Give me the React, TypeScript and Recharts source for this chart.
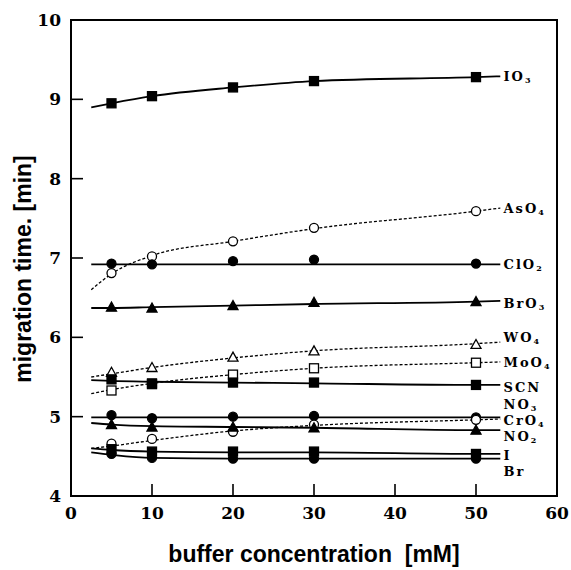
import React from "react";
import {
  ComposedChart,
  Line,
  XAxis,
  YAxis,
  ReferenceArea,
  ReferenceDot,
} from "recharts";

// buffer concentration [mM] of the measured points, and the span of the fitted curves
const concentration = [5, 10, 20, 30, 50];
const fitConcentration = [2.5, 5, 10, 20, 30, 50, 53];

const ionNames = ["IO3", "AsO4", "ClO2", "BrO3", "WO4", "MoO4", "SCN", "NO3", "CrO4", "NO2", "I", "Br"];

// migration time [min], measured
const io3 = [8.95, 9.04, 9.15, 9.23, 9.28];
const aso4 = [6.81, 7.02, 7.21, 7.38, 7.59];
const clo2 = [6.93, 6.92, 6.96, 6.98, 6.93];
const bro3 = [6.38, 6.37, 6.4, 6.44, 6.45];
const wo4 = [5.56, 5.62, 5.75, 5.83, 5.91];
const moo4 = [5.33, 5.42, 5.53, 5.61, 5.68];
const scn = [5.47, 5.41, 5.43, 5.43, 5.4];
const no3 = [5.02, 4.98, 5.0, 5.01, 4.99];
const cro4 = [4.66, 4.72, 4.81, 4.9, 4.96];
const no2 = [4.9, 4.87, 4.87, 4.86, 4.83];
const iodide = [4.59, 4.56, 4.56, 4.56, 4.53];
const bromide = [4.53, 4.48, 4.47, 4.47, 4.47];

// fitted curves, read along fitConcentration
const io3Fit = [8.9, 8.95, 9.04, 9.15, 9.23, 9.28, 9.29];
const aso4Fit = [6.6, 6.8, 7.03, 7.21, 7.37, 7.59, 7.63];
const clo2Fit = [6.92, 6.92, 6.92, 6.92, 6.92, 6.92, 6.92];
const bro3Fit = [6.37, 6.37, 6.38, 6.4, 6.42, 6.45, 6.46];
const wo4Fit = [5.5, 5.54, 5.62, 5.74, 5.83, 5.92, 5.94];
const moo4Fit = [5.29, 5.34, 5.42, 5.53, 5.61, 5.68, 5.69];
const scnFit = [5.46, 5.45, 5.44, 5.43, 5.42, 5.4, 5.4];
const no3Fit = [4.99, 4.99, 4.99, 4.99, 4.99, 4.99, 4.99];
const cro4Fit = [4.6, 4.63, 4.7, 4.82, 4.89, 4.96, 4.97];
const no2Fit = [4.92, 4.9, 4.88, 4.87, 4.86, 4.83, 4.83];
const iodideFit = [4.6, 4.58, 4.56, 4.55, 4.55, 4.53, 4.53];
const bromideFit = [4.55, 4.52, 4.48, 4.47, 4.47, 4.47, 4.47];

// where each ion name sits on the right (migration time units)
const labelTimes = [9.29, 7.63, 6.93, 6.43, 6.0, 5.69, 5.38, 5.16, 4.96, 4.76, 4.52, 4.31];
const labelConcentration = 53.4;

const xTicks = [0, 10, 20, 30, 40, 50, 60];
const yTicks = [4, 5, 6, 7, 8, 9, 10];

type MarkerKind = "filledSquare" | "openSquare" | "filledCircle" | "openCircle" | "filledTriangle" | "openTriangle";

const series: Array<{ values: number[]; fit: number[]; marker: MarkerKind; dashed: boolean }> = [
  { values: io3, fit: io3Fit, marker: "filledSquare", dashed: false },
  { values: aso4, fit: aso4Fit, marker: "openCircle", dashed: true },
  { values: clo2, fit: clo2Fit, marker: "filledCircle", dashed: false },
  { values: bro3, fit: bro3Fit, marker: "filledTriangle", dashed: false },
  { values: wo4, fit: wo4Fit, marker: "openTriangle", dashed: true },
  { values: moo4, fit: moo4Fit, marker: "openSquare", dashed: true },
  { values: scn, fit: scnFit, marker: "filledSquare", dashed: false },
  { values: no3, fit: no3Fit, marker: "filledCircle", dashed: false },
  { values: cro4, fit: cro4Fit, marker: "openCircle", dashed: true },
  { values: no2, fit: no2Fit, marker: "filledTriangle", dashed: false },
  { values: iodide, fit: iodideFit, marker: "filledSquare", dashed: false },
  { values: bromide, fit: bromideFit, marker: "filledCircle", dashed: false },
];

const serifFont = "'DejaVu Serif', 'Liberation Serif', serif";
const sansFont = "'Liberation Sans', Arial, sans-serif";
const INNER_TICK = 12;

function Marker({ cx, cy, kind }: { cx?: number; cy?: number; kind: MarkerKind }) {
  if (cx == null || cy == null) return null;
  const fill = kind.startsWith("filled") ? "#000" : "#fff";
  if (kind.endsWith("Square")) {
    return <rect x={cx - 4.5} y={cy - 4.5} width={9} height={9} fill={fill} stroke="#000" strokeWidth={1.3} />;
  }
  if (kind.endsWith("Circle")) {
    return <circle cx={cx} cy={cy} r={4.5} fill={fill} stroke="#000" strokeWidth={1.3} />;
  }
  return (
    <polygon
      points={`${cx},${cy - 5} ${cx - 5},${cy + 4} ${cx + 5},${cy + 4}`}
      fill={fill}
      stroke="#000"
      strokeWidth={1.3}
    />
  );
}

function IonLabel({ cx, cy, name }: { cx?: number; cy?: number; name: string }) {
  if (cx == null || cy == null) return null;
  const m = name.match(/^(.*?)(\d*)$/);
  const base = m ? m[1] : name;
  const sub = m ? m[2] : "";
  return (
    <text
      x={cx}
      y={cy + 5}
      fontFamily={serifFont}
      fontWeight="bold"
      fontSize={13}
      letterSpacing={2}
      fill="#000"
    >
      {base}
      {sub && (
        <tspan fontSize={8} dy={2}>
          {sub}
        </tspan>
      )}
    </text>
  );
}

export default function App() {
  const tickStyle = { fill: "#000", fontFamily: serifFont, fontWeight: "bold", fontSize: 17 };
  return (
    <div style={{ position: "absolute", left: 0, top: 0, width: 571, height: 570, background: "#fff" }}>
      <ComposedChart width={571} height={570} margin={{ top: 20, right: 14, bottom: 0, left: 10 }}>
        <XAxis
          type="number"
          dataKey="x"
          domain={[0, 60]}
          ticks={xTicks}
          allowDataOverflow
          height={74}
          stroke="#000"
          strokeWidth={2}
          tickLine={false}
          tickSize={0}
          tickMargin={11}
          tick={tickStyle}
          label={{
            content: (props: any) => {
              const vb = props.viewBox || { x: 71, y: 496, width: 486 };
              // inward tick marks, spaced along the axis like the tick values
              const inner = xTicks.slice(1, -1).map((t) => vb.x + ((t - xTicks[0]) / (xTicks[xTicks.length - 1] - xTicks[0])) * vb.width);
              return (
                <g>
                  {inner.map((px, k) => (
                    <line key={k} x1={px} x2={px} y1={vb.y} y2={vb.y - INNER_TICK} stroke="#000" strokeWidth={1.6} />
                  ))}
                  <text
                    x={vb.x + vb.width / 2}
                    y={562}
                    textAnchor="middle"
                    fontFamily={sansFont}
                    fontWeight="bold"
                    fontSize={23}
                    fill="#000"
                    style={{ whiteSpace: "pre" }}
                  >
                    {"buffer concentration  [mM]"}
                  </text>
                </g>
              );
            },
          }}
        />
        <YAxis
          type="number"
          domain={[4, 10]}
          ticks={yTicks}
          allowDataOverflow
          width={61}
          stroke="#000"
          strokeWidth={2}
          tickLine={false}
          tickSize={0}
          tickMargin={10}
          tick={tickStyle}
          label={{
            content: (props: any) => {
              const vb = props.viewBox || { x: 10, y: 20, width: 61, height: 476 };
              const axisX = vb.x + vb.width;
              const top = yTicks[yTicks.length - 1];
              const span = top - yTicks[0];
              const inner = yTicks.slice(1, -1).map((t) => vb.y + ((top - t) / span) * vb.height);
              return (
                <g>
                  {inner.map((py, k) => (
                    <line key={k} x1={axisX} x2={axisX + INNER_TICK} y1={py} y2={py} stroke="#000" strokeWidth={1.6} />
                  ))}
                  <text
                    x={31}
                    y={269}
                    transform="rotate(-90, 31, 269)"
                    textAnchor="middle"
                    fontFamily={sansFont}
                    fontWeight="bold"
                    fontSize={23}
                    fill="#000"
                  >
                    migration time. [min]
                  </text>
                </g>
              );
            },
          }}
        />
        <ReferenceArea x1={0} x2={60} y1={4} y2={10} fill="none" fillOpacity={0} stroke="#000" strokeWidth={2} />

        {series.map((s, i) => (
          <Line
            key={`fit-${ionNames[i]}`}
            data={fitConcentration.map((x, j) => ({ x, y: s.fit[j] }))}
            dataKey="y"
            type="monotone"
            stroke="#000"
            strokeWidth={s.dashed ? 1.3 : 1.8}
            strokeDasharray={s.dashed ? "3 2" : undefined}
            dot={false}
            activeDot={false}
            isAnimationActive={false}
          />
        ))}

        {series.map((s, i) => (
          <Line
            key={`pts-${ionNames[i]}`}
            data={concentration.map((x, j) => ({ x, y: s.values[j] }))}
            dataKey="y"
            stroke="none"
            dot={(p: any) => <Marker key={`m-${i}-${p.index}`} cx={p.cx} cy={p.cy} kind={s.marker} />}
            activeDot={false}
            isAnimationActive={false}
          />
        ))}

        {ionNames.map((name, i) => (
          <ReferenceDot
            key={`lab-${name}`}
            x={labelConcentration}
            y={labelTimes[i]}
            r={0}
            ifOverflow="visible"
            shape={(p: any) => <IonLabel cx={p.cx} cy={p.cy} name={name} />}
          />
        ))}
      </ComposedChart>
    </div>
  );
}
